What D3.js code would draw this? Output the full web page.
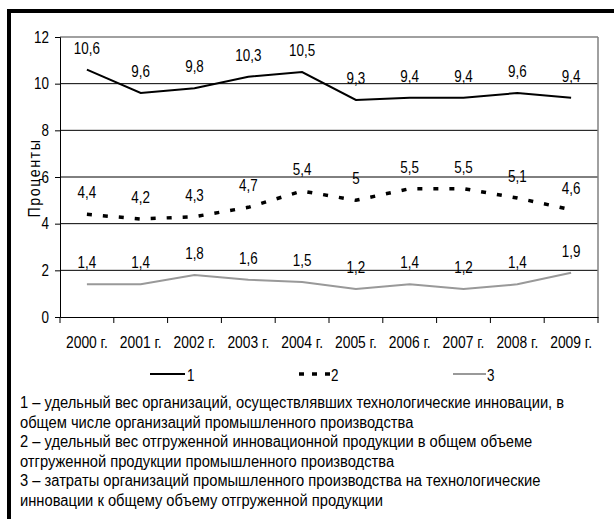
<!DOCTYPE html>
<html>
<head>
<meta charset="utf-8">
<script src="https://cdn.jsdelivr.net/npm/d3@7"></script>
<style>
body{margin:0;background:#fff;}
text{font-family:"Liberation Sans",Arial,sans-serif;fill:#000;}
</style>
</head>
<body>
<script>
var years = ["2000 г.","2001 г.","2002 г.","2003 г.","2004 г.","2005 г.","2006 г.","2007 г.","2008 г.","2009 г."];
var s1 = [10.6,9.6,9.8,10.3,10.5,9.3,9.4,9.4,9.6,9.4];
var s2 = [4.4,4.2,4.3,4.7,5.4,5,5.5,5.5,5.1,4.6];
var s3 = [1.4,1.4,1.8,1.6,1.5,1.2,1.4,1.2,1.4,1.9];
var yTicks = [0,2,4,6,8,10,12];
var legendNames = ["1","2","3"];
var notes = [
 "1 – удельный вес организаций, осуществлявших технологические инновации, в",
 "общем числе организаций промышленного производства",
 "2 – удельный вес отгруженной инновационной продукции в общем объеме",
 "отгруженной продукции промышленного производства",
 "3 – затраты организаций промышленного производства на технологические",
 "инновации к общему объему отгруженной продукции"
];

var K = 0.84; // narrow font imitation

var svg = d3.select("body").append("svg").attr("width",614).attr("height",519);

// frame
svg.append("rect").attr("x",7).attr("y",9).attr("width",607).attr("height",4).attr("fill","#000");
svg.append("rect").attr("x",7).attr("y",9).attr("width",4).attr("height",510).attr("fill","#000");

var x = d3.scaleBand().domain(years).range([60,598]);
var y = d3.scaleLinear().domain([0,12]).range([317,37]);

function narrowText(sel, fx, fy, k){
  sel.attr("transform",function(d,i){return "translate("+fx(d,i)+","+fy(d,i)+") scale("+(k||K)+",1)";});
}

// grid
svg.append("g").selectAll("line").data(yTicks.filter(function(d){return d>0 && d<12;})).enter().append("line")
  .attr("x1",60).attr("x2",598).attr("y1",function(d){return y(d);}).attr("y2",function(d){return y(d);})
  .attr("stroke","#000").attr("stroke-width",1);
svg.append("line").attr("x1",60).attr("x2",598).attr("y1",y(12)).attr("y2",y(12)).attr("stroke","#808080").attr("stroke-width",1.5);
svg.append("line").attr("x1",598).attr("x2",598).attr("y1",y(12)).attr("y2",y(0)).attr("stroke","#808080").attr("stroke-width",1.5);

// axes
var yAxis = d3.axisLeft(y).tickValues(yTicks).tickSize(5).tickPadding(4);
var gy = svg.append("g").attr("transform","translate(60,0)").call(yAxis);
gy.select(".domain").attr("stroke","#000");
gy.selectAll("text").attr("font-size",16).style("font-family",null).attr("transform","scale("+K+",1)")
  .attr("x",-11/K);

var xAxis = d3.axisBottom(x).tickSize(0).tickPadding(20);
var gx = svg.append("g").attr("transform","translate(0,317)").call(xAxis);
gx.select(".domain").attr("stroke","#000");
gx.selectAll("text").attr("font-size",16.5).style("font-family",null).attr("y",19)
  .attr("transform",function(d){return "translate("+(x.bandwidth()/2)+",0) scale("+K+",1)";})
  .attr("x",0);
gx.selectAll(".tick").attr("transform",function(d){return "translate("+x(d)+",0)";});
svg.append("g").selectAll("line").data(d3.range(years.length+1)).enter().append("line")
  .attr("x1",function(d){return 60+d*x.step();}).attr("x2",function(d){return 60+d*x.step();})
  .attr("y1",317).attr("y2",323).attr("stroke","#000");

svg.append("text").attr("transform","translate(40,178) rotate(-90) scale("+K+",1)").attr("text-anchor","middle")
  .attr("font-size",17).attr("letter-spacing",1.8).text("Проценты");

var cx = function(d,i){return x(years[i])+x.bandwidth()/2;};
var line = d3.line().x(cx).y(function(d){return y(d);});

var series = [
 {v:s1,color:"#000",w:2,dash:null},
 {v:s2,color:"#000",w:3.5,dash:"5,11"},
 {v:s3,color:"#999",w:2,dash:null}
];
series.forEach(function(s){
  svg.append("path").datum(s.v).attr("d",line).attr("fill","none")
    .attr("stroke",s.color).attr("stroke-width",s.w).attr("stroke-dasharray",s.dash);
  svg.append("g").selectAll("text").data(s.v).enter().append("text")
    .attr("text-anchor","middle").attr("font-size",16)
    .call(narrowText,cx,function(d){return y(d)-16;})
    .text(function(d){return String(d).replace(".",",");});
});

// legend
var leg = [{x1:150,x2:185,tx:187},{x1:299,x2:330,tx:331},{x1:453,x2:486,tx:487}];
leg.forEach(function(l,i){
  var s = series[i];
  svg.append("line").attr("x1",l.x1).attr("x2",l.x2).attr("y1",374).attr("y2",374)
    .attr("stroke",s.color).attr("stroke-width",i==1?3.5:2).attr("stroke-dasharray",i==1?"5,8":null);
  svg.append("text").attr("font-size",16).attr("transform","translate("+l.tx+",381) scale("+K+",1)").text(legendNames[i]);
});

var noteY = [408,428,447,467,486,506];
svg.append("g").selectAll("text").data(notes).enter().append("text")
  .attr("font-size",16)
  .call(narrowText,function(){return 20;},function(d,i){return noteY[i];},0.92)
  .text(function(d){return d;});
</script>
</body>
</html>
